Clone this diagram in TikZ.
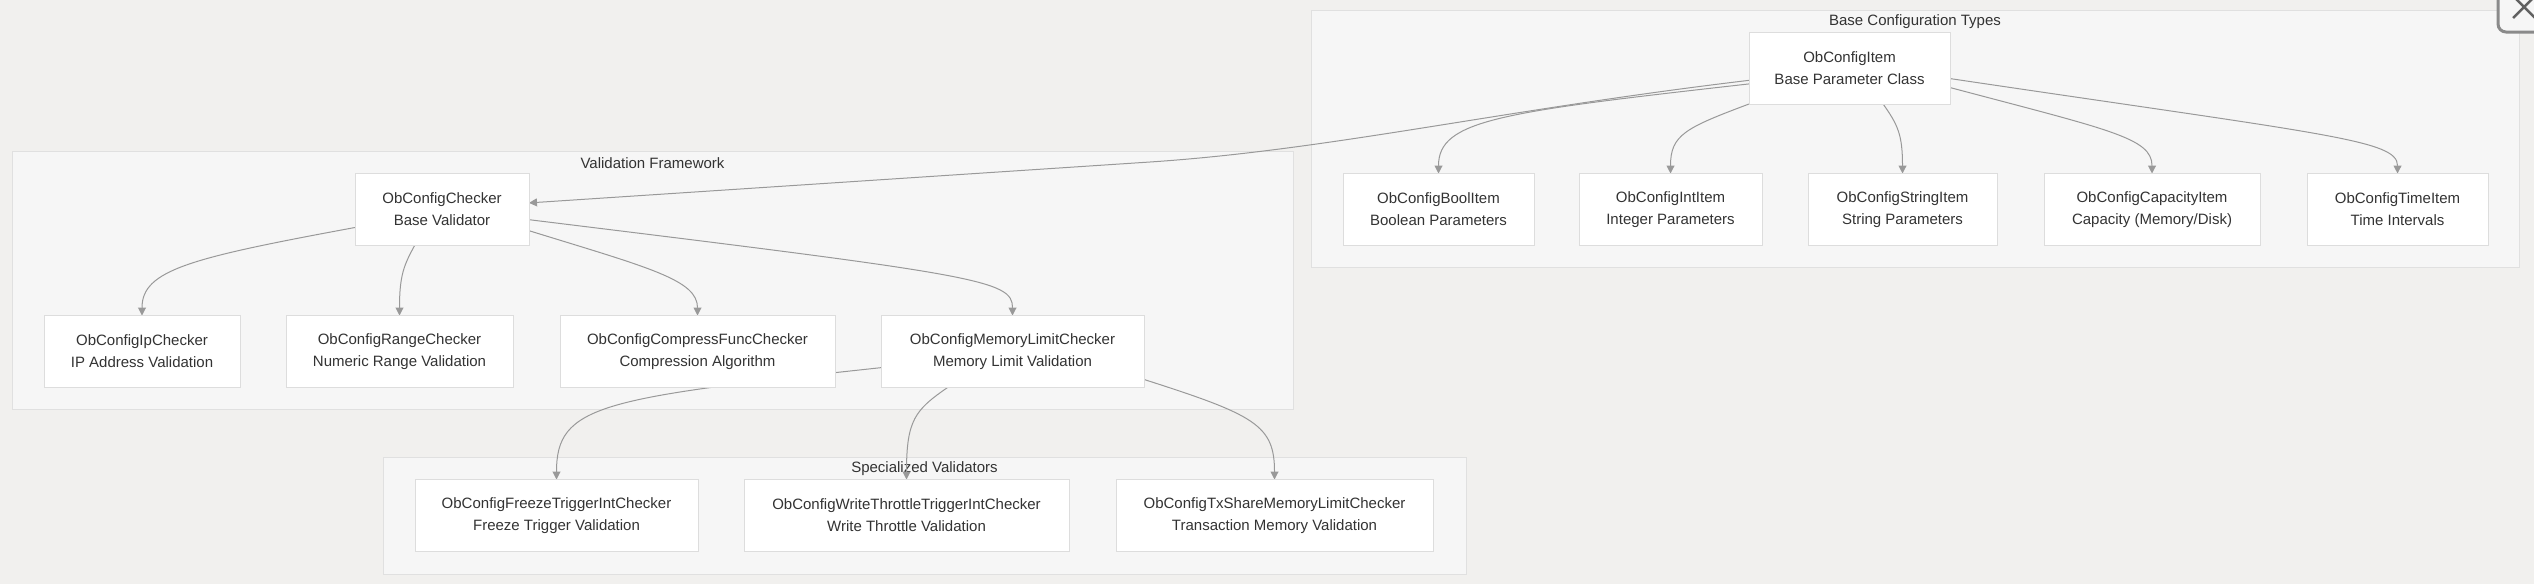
\documentclass[tikz,border=0pt]{standalone}
\usepackage{fontspec}
\setmainfont{Liberation Sans}
\usepackage{xcolor}
\usetikzlibrary{arrows.meta}
\definecolor{bgcol}{HTML}{F1F0EE}
\definecolor{grpfill}{HTML}{F6F6F6}
\definecolor{grpline}{HTML}{E0E0E0}
\definecolor{boxline}{HTML}{DDDDDD}
\definecolor{edgecol}{HTML}{999999}
\definecolor{txtcol}{HTML}{333333}
\definecolor{closecol}{HTML}{8A8A8A}
\pgfdeclarelayer{grplayer}
\pgfdeclarelayer{edgelayer}
\pgfsetlayers{grplayer,edgelayer,main}
\tikzstyle{grp}=[fill=grpfill, draw=grpline, line width=1pt]
\tikzstyle{grptitle}=[text=txtcol, inner sep=0pt]
\tikzstyle{box}=[draw=boxline, fill=white, line width=1pt, minimum height=72pt, inner sep=0pt, outer sep=0pt, align=center, text=txtcol]
\tikzstyle{edge}=[draw=edgecol, line width=1pt, -{Triangle[length=8pt,width=8pt]}]

\begin{document}
\begin{tikzpicture}[x=1pt, y=-1pt, font=\fontsize{15}{22}\selectfont]
	\useasboundingbox (0,0) rectangle (2534,584);
	\clip (0,0) rectangle (2534,584);

	\begin{pgfonlayer}{grplayer}
	\fill[bgcol] (0,0) rectangle (2534,584);
	\draw[grp] (1311,10) rectangle (2519,267);
	\node(basettl)[grptitle] at (1915,22) {Base Configuration Types};
	\draw[grp] (12,151) rectangle (1293,409);
	\node(valttl)[grptitle] at (652.5,163) {Validation Framework};
	\draw[grp] (383,457) rectangle (1466,574);
	\node(specttl)[grptitle] at (924.5,469) {Specialized Validators};
	\end{pgfonlayer}

	\node(item)[box, minimum width=201] at (1849.5,68) {ObConfigItem\\Base Parameter Class};
	\node(bool)[box, minimum width=191] at (1438.5,209.5) {ObConfigBoolItem\\Boolean Parameters};
	\node(int)[box, minimum width=183] at (1670.5,209.5) {ObConfigIntItem\\Integer Parameters};
	\node(str)[box, minimum width=189] at (1902.5,209.5) {ObConfigStringItem\\String Parameters};
	\node(cap)[box, minimum width=216] at (2152,209.5) {ObConfigCapacityItem\\Capacity (Memory/Disk)};
	\node(time)[box, minimum width=181] at (2397.5,209.5) {ObConfigTimeItem\\Time Intervals};

	\node(chk)[box, minimum width=174] at (442,209) {ObConfigChecker\\Base Validator};
	\node(ip)[box, minimum width=196] at (142,351.5) {ObConfigIpChecker\\IP Address Validation};
	\node(rng)[box, minimum width=227] at (399.5,351.5) {ObConfigRangeChecker\\Numeric Range Validation};
	\node(cmp)[box, minimum width=275] at (697.5,351.5) {ObConfigCompressFuncChecker\\Compression Algorithm};
	\node(mem)[box, minimum width=263] at (1012.5,351.5) {ObConfigMemoryLimitChecker\\Memory Limit Validation};

	\node(frz)[box, minimum width=283] at (556.5,515.5) {ObConfigFreezeTriggerIntChecker\\Freeze Trigger Validation};
	\node(wrt)[box, minimum width=325] at (906.5,515.5) {ObConfigWriteThrottleTriggerIntChecker\\Write Throttle Validation};
	\node(txs)[box, minimum width=317] at (1274.5,515.5) {ObConfigTxShareMemoryLimitChecker\\Transaction Memory Validation};

	\begin{pgfonlayer}{edgelayer}
	\draw[edge] (item.187) .. controls (1500,110) and (1330,150) .. (1150,162) -- (chk.4);
	\draw[edge] (item.189) .. controls (1500,112) and (1438.5,120) .. (bool.north);
	\draw[edge] (item.south west) .. controls (1685,128) and (1670.5,135) .. (int.north);
	\draw[edge] (item.313) .. controls (1898,125) and (1902.5,135) .. (str.north);
	\draw[edge] (item.349) .. controls (2110,130) and (2152,138) .. (cap.north);
	\draw[edge] (item.354) .. controls (2330,135) and (2397.5,140) .. (time.north);

	\draw[edge] (chk.192) .. controls (190,258) and (142,270) .. (ip.north);
	\draw[edge] (chk.233) .. controls (404,265) and (399.5,275) .. (rng.north);
	\draw[edge] (chk.346) .. controls (650,268) and (697.5,280) .. (cmp.north);
	\draw[edge] (chk.353) .. controls (980,275) and (1012.5,280) .. (mem.north);

	\draw[edge] (mem.187) .. controls (600,398) and (556.5,405) .. (frz.north);
	\draw[edge] (mem.209) .. controls (915,410) and (906.5,420) .. (wrt.north);
	\draw[edge] (mem.348) .. controls (1255,415) and (1274.5,425) .. (txs.north);
	\end{pgfonlayer}

	% close button, cut at the corner
	\draw[closecol, fill=grpfill, line width=3pt, rounded corners=8pt] (2498,-20) rectangle (2560,32);
	\draw[closecol!70!black, line width=2.5pt] (2513,-4) -- (2535,18) (2513,18) -- (2535,-4);
\end{tikzpicture}
\end{document}
